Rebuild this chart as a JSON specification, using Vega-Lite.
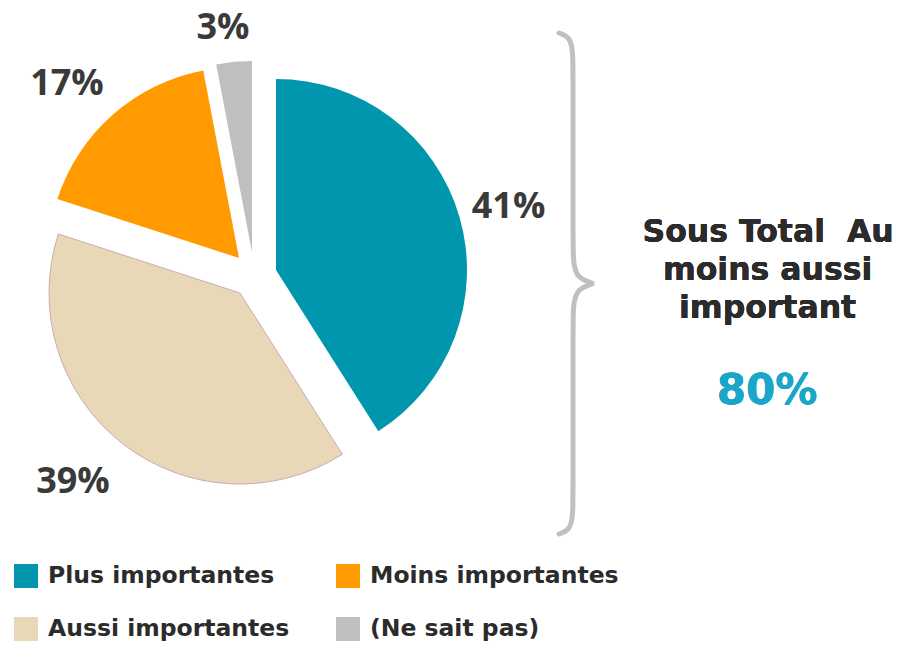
{
  "$schema": "https://vega.github.io/schema/vega-lite/v6.json",
  "width": 484,
  "height": 552,
  "autosize": {"type": "none"},
  "padding": {"left": 14, "top": 0, "right": 401, "bottom": 93},
  "background": "white",
  "config": {"view": {"stroke": null}, "font": "DejaVu Sans"},
  "data": {
    "values": [
      {"cat": "Plus importantes", "share": 0.41, "ord": 1},
      {"cat": "Aussi importantes", "share": 0.39, "ord": 2},
      {"cat": "Moins importantes", "share": 0.17, "ord": 3},
      {"cat": "(Ne sait pas)", "share": 0.03, "ord": 4}
    ]
  },
  "layer": [
    {
      "mark": {"type": "arc", "outerRadius": 191, "xOffset": 20, "yOffset": -6},
      "encoding": {
        "theta": {"field": "share", "type": "quantitative", "stack": true},
        "order": {"field": "ord", "type": "quantitative"},
        "color": {
          "field": "cat", "type": "nominal",
          "scale": {
            "domain": ["Plus importantes", "Moins importantes", "Aussi importantes", "(Ne sait pas)"],
            "range": ["#0097ae", "#ff9a00", "#e8d8b8", "#bfbfbf"]
          },
          "legend": {
            "orient": "bottom", "direction": "horizontal", "columns": 2, "title": null,
            "symbolType": "M-1,-1H1V1H-1Z", "symbolSize": 576, "symbolStrokeWidth": 0, "symbolOpacity": 1,
            "labelFont": "DejaVu Sans", "labelFontWeight": "bold", "labelFontSize": 23.5, "labelColor": "#2b2b2b",
            "labelOffset": 10, "columnPadding": 46, "rowPadding": 29, "padding": 0, "offset": 12, "labelLimit": 400
          }
        },
        "opacity": {"condition": {"test": "datum.cat === 'Plus importantes'", "value": 1}, "value": 0}
      }
    },
    {
      "mark": {"type": "arc", "outerRadius": 191, "xOffset": -16, "yOffset": 17, "stroke": "#cfa9b0", "strokeWidth": 1},
      "encoding": {
        "theta": {"field": "share", "type": "quantitative", "stack": true},
        "order": {"field": "ord", "type": "quantitative"},
        "color": {"field": "cat", "type": "nominal"},
        "opacity": {"condition": {"test": "datum.cat === 'Aussi importantes'", "value": 1}, "value": 0}
      }
    },
    {
      "mark": {"type": "arc", "outerRadius": 191, "xOffset": -17, "yOffset": -18},
      "encoding": {
        "theta": {"field": "share", "type": "quantitative", "stack": true},
        "order": {"field": "ord", "type": "quantitative"},
        "color": {"field": "cat", "type": "nominal"},
        "opacity": {"condition": {"test": "datum.cat === 'Moins importantes'", "value": 1}, "value": 0}
      }
    },
    {
      "mark": {"type": "arc", "outerRadius": 191, "xOffset": -4, "yOffset": -24},
      "encoding": {
        "theta": {"field": "share", "type": "quantitative", "stack": true},
        "order": {"field": "ord", "type": "quantitative"},
        "color": {"field": "cat", "type": "nominal"},
        "opacity": {"condition": {"test": "datum.cat === '(Ne sait pas)'", "value": 1}, "value": 0}
      }
    },
    {
      "mark": {"type": "text", "radius": 250, "xOffset": 12.5, "yOffset": 0.25, "font": "Open Sans", "fontSize": 36, "fontWeight": "bold", "color": "#3a3a3a"},
      "encoding": {
        "theta": {"field": "share", "type": "quantitative", "stack": true},
        "order": {"field": "ord", "type": "quantitative"},
        "text": {"field": "share", "type": "quantitative", "format": ".0%"},
        "opacity": {"condition": {"test": "datum.cat === 'Plus importantes'", "value": 1}, "value": 0}
      }
    },
    {
      "mark": {"type": "text", "radius": 250, "xOffset": -29.8, "yOffset": 8.5, "font": "Open Sans", "fontSize": 36, "fontWeight": "bold", "color": "#3a3a3a"},
      "encoding": {
        "theta": {"field": "share", "type": "quantitative", "stack": true},
        "order": {"field": "ord", "type": "quantitative"},
        "text": {"field": "share", "type": "quantitative", "format": ".0%"},
        "opacity": {"condition": {"test": "datum.cat === 'Aussi importantes'", "value": 1}, "value": 0}
      }
    },
    {
      "mark": {"type": "text", "radius": 250, "xOffset": -23.7, "yOffset": -4.5, "font": "Open Sans", "fontSize": 36, "fontWeight": "bold", "color": "#3a3a3a"},
      "encoding": {
        "theta": {"field": "share", "type": "quantitative", "stack": true},
        "order": {"field": "ord", "type": "quantitative"},
        "text": {"field": "share", "type": "quantitative", "format": ".0%"},
        "opacity": {"condition": {"test": "datum.cat === 'Moins importantes'", "value": 1}, "value": 0}
      }
    },
    {
      "mark": {"type": "text", "radius": 250, "xOffset": -9.5, "yOffset": 0.9, "font": "Open Sans", "fontSize": 36, "fontWeight": "bold", "color": "#3a3a3a"},
      "encoding": {
        "theta": {"field": "share", "type": "quantitative", "stack": true},
        "order": {"field": "ord", "type": "quantitative"},
        "text": {"field": "share", "type": "quantitative", "format": ".0%"},
        "opacity": {"condition": {"test": "datum.cat === '(Ne sait pas)'", "value": 1}, "value": 0}
      }
    },
    {
      "data": {
        "values": [
          {"seg": "top", "i": 0, "bx": 112.60, "by": 5.98},
          {"seg": "top", "i": 1, "bx": 114.88, "by": 6.70},
          {"seg": "top", "i": 2, "bx": 115.50, "by": 9.42},
          {"seg": "top", "i": 3, "bx": 115.50, "by": 13.59},
          {"seg": "top", "i": 4, "bx": 115.50, "by": 43.12},
          {"seg": "top", "i": 5, "bx": 115.50, "by": 47.46},
          {"seg": "top", "i": 6, "bx": 116.32, "by": 50.36},
          {"seg": "top", "i": 7, "bx": 119.42, "by": 51.27},
          {"seg": "bottom", "i": 0, "bx": 119.42, "by": 51.45},
          {"seg": "bottom", "i": 1, "bx": 116.32, "by": 52.36},
          {"seg": "bottom", "i": 2, "bx": 115.50, "by": 55.25},
          {"seg": "bottom", "i": 3, "bx": 115.50, "by": 59.60},
          {"seg": "bottom", "i": 4, "bx": 115.50, "by": 89.13},
          {"seg": "bottom", "i": 5, "bx": 115.50, "by": 93.30},
          {"seg": "bottom", "i": 6, "bx": 114.88, "by": 96.01},
          {"seg": "bottom", "i": 7, "bx": 112.60, "by": 96.74}
        ]
      },
      "mark": {"type": "line", "interpolate": "basis", "color": "#c0c0c0", "strokeWidth": 5, "strokeCap": "round"},
      "encoding": {
        "x": {"field": "bx", "type": "quantitative", "scale": {"domain": [0, 100], "nice": false, "zero": false}, "axis": null},
        "y": {"field": "by", "type": "quantitative", "scale": {"domain": [0, 100], "nice": false, "zero": false, "reverse": true}, "axis": null},
        "detail": {"field": "seg"},
        "order": {"field": "i", "type": "quantitative"}
      }
    },
    {
      "mark": {"type": "text", "font": "DejaVu Sans", "fontWeight": "bold", "fontSize": 31.5, "align": "center", "baseline": "alphabetic", "color": "#2b2b2b"},
      "encoding": {
        "x": {"datum": 155.8, "type": "quantitative"},
        "y": {"datum": 43.84, "type": "quantitative"},
        "text": {"value": "Sous Total\u00a0 Au"}
      }
    },
    {
      "mark": {"type": "text", "font": "DejaVu Sans", "fontWeight": "bold", "fontSize": 31.5, "align": "center", "baseline": "alphabetic", "color": "#2b2b2b"},
      "encoding": {
        "x": {"datum": 155.7, "type": "quantitative"},
        "y": {"datum": 50.72, "type": "quantitative"},
        "text": {"value": "moins aussi"}
      }
    },
    {
      "mark": {"type": "text", "font": "DejaVu Sans", "fontWeight": "bold", "fontSize": 31.5, "align": "center", "baseline": "alphabetic", "color": "#2b2b2b"},
      "encoding": {
        "x": {"datum": 155.7, "type": "quantitative"},
        "y": {"datum": 57.61, "type": "quantitative"},
        "text": {"value": "important"}
      }
    },
    {
      "mark": {"type": "text", "font": "DejaVu Sans", "fontWeight": "bold", "fontSize": 42, "align": "center", "baseline": "alphabetic", "color": "#1aa6c8"},
      "encoding": {
        "x": {"datum": 155.6, "type": "quantitative"},
        "y": {"datum": 73.19, "type": "quantitative"},
        "text": {"value": "80%"}
      }
    }
  ]
}
